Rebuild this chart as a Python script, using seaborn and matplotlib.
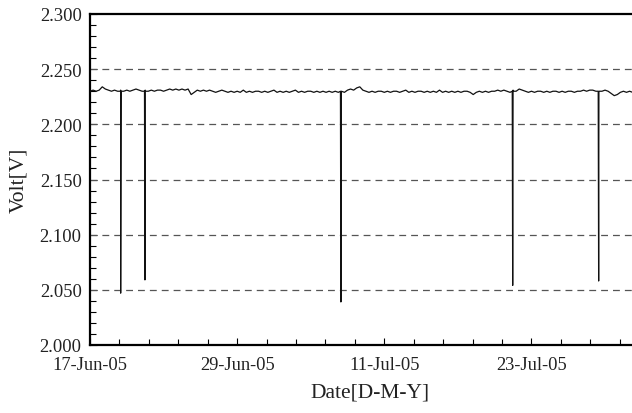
import matplotlib
matplotlib.use("Agg")
import matplotlib.pyplot as plt
import matplotlib.dates as mdates
from matplotlib.ticker import AutoMinorLocator, FixedLocator, FormatStrFormatter
import seaborn as sns
import pandas as pd

# ---- data ----
start_date = "2005-06-17"
base_step_hours = 6
base_volts = [
    2.230, 2.231, 2.230, 2.231,  2.234, 2.232, 2.231, 2.230,
    2.231, 2.230, 2.231, 2.230,  2.231, 2.230, 2.231, 2.232,
    2.231, 2.230, 2.231, 2.230,  2.231, 2.230, 2.231, 2.231,
    2.230, 2.231, 2.232, 2.231,  2.232, 2.231, 2.232, 2.231,
    2.232, 2.227, 2.229, 2.231,  2.230, 2.231, 2.230, 2.231,
    2.230, 2.229, 2.230, 2.231,  2.230, 2.229, 2.230, 2.229,
    2.230, 2.229, 2.231, 2.229,  2.230, 2.229, 2.230, 2.230,
    2.229, 2.230, 2.229, 2.230,  2.231, 2.229, 2.230, 2.229,
    2.230, 2.229, 2.230, 2.231,  2.229, 2.230, 2.229, 2.230,
    2.230, 2.229, 2.230, 2.229,  2.230, 2.229, 2.230, 2.229,
    2.230, 2.229, 2.230, 2.229,  2.231, 2.232, 2.231, 2.233,
    2.234, 2.231, 2.230, 2.229,  2.230, 2.229, 2.230, 2.230,
    2.229, 2.230, 2.229, 2.230,  2.230, 2.229, 2.230, 2.231,
    2.229, 2.230, 2.229, 2.230,  2.230, 2.229, 2.230, 2.229,
    2.230, 2.229, 2.231, 2.229,  2.230, 2.229, 2.230, 2.229,
    2.230, 2.229, 2.230, 2.230,  2.229, 2.227, 2.229, 2.230,
    2.229, 2.230, 2.229, 2.230,  2.230, 2.231, 2.230, 2.231,
    2.230, 2.229, 2.231, 2.230,  2.232, 2.231, 2.230, 2.229,
    2.230, 2.229, 2.230, 2.230,  2.229, 2.230, 2.229, 2.230,
    2.230, 2.229, 2.230, 2.229,  2.230, 2.230, 2.229, 2.230,
    2.230, 2.231, 2.230, 2.231,  2.231, 2.230, 2.229, 2.230,
    2.231, 2.230, 2.228, 2.226,  2.227, 2.229, 2.230, 2.229,
    2.230, 2.229, 2.230, 2.229,  2.230, 2.229, 2.230, 2.229,
]
spike_times = ["2005-06-19 12:00", "2005-06-21 11:30", "2005-07-07 11:00",
               "2005-07-21 11:15", "2005-07-28 11:30"]
spike_volts = [2.047, 2.059, 2.039, 2.054, 2.058]
spike_edge_volts = [2.230, 2.230, 2.230, 2.230, 2.230]
tick_dates = ["2005-06-17", "2005-06-29", "2005-07-11", "2005-07-23"]
y_ticks = [2.000, 2.050, 2.100, 2.150, 2.200, 2.250, 2.300]
grid_values = [2.050, 2.100, 2.150, 2.200, 2.250]
x_end = "2005-08-01 16:00"

# ---- build table ----
base_times = pd.date_range(start_date, periods=len(base_volts), freq=f"{base_step_hours}h")
rows = [(t, v) for t, v in zip(base_times, base_volts)]
for st, sv, ev in zip(spike_times, spike_volts, spike_edge_volts):
    t = pd.Timestamp(st)
    rows.append((t - pd.Timedelta(minutes=50), ev))
    rows.append((t, sv))
    rows.append((t + pd.Timedelta(minutes=50), ev))
df = pd.DataFrame(rows, columns=["date", "volt"]).sort_values("date").reset_index(drop=True)

# ---- plot ----
sns.set_theme(style="ticks")
plt.rcParams["font.family"] = ["Liberation Serif", "DejaVu Serif"]

fig = plt.figure(figsize=(6.32, 4.14), dpi=100)
W, H = 632, 414
left, right, top, bottom = 90, 650, 15, 346
ax = fig.add_axes([left / W, 1 - bottom / H, (right - left) / W, (bottom - top) / H])

for g in grid_values:
    ax.axhline(g, color="#555555", lw=0.9, ls=(0, (5.5, 4)), zorder=1)

sns.lineplot(data=df, x="date", y="volt", ax=ax, color="#111111", lw=0.9,
             estimator=None, sort=False, zorder=3)

ax.set_ylim(2.0, 2.3)
ax.set_xlim(pd.Timestamp(start_date), pd.Timestamp(x_end))
ax.yaxis.set_major_locator(FixedLocator(y_ticks))
ax.yaxis.set_major_formatter(FormatStrFormatter("%.3f"))
ax.yaxis.set_minor_locator(AutoMinorLocator(5))
ax.xaxis.set_major_locator(FixedLocator([mdates.date2num(pd.Timestamp(d)) for d in tick_dates]))
ax.xaxis.set_major_formatter(mdates.DateFormatter("%d-%b-%y"))
ax.xaxis.set_minor_locator(AutoMinorLocator(5))

ax.tick_params(axis="both", which="both", direction="in", colors="black",
               labelsize=13.3, width=0.8)
ax.tick_params(axis="both", which="major", length=5)
ax.tick_params(axis="both", which="minor", length=4)
ax.tick_params(axis="y", pad=6)
ax.tick_params(axis="x", pad=8)
for lab in ax.get_xticklabels() + ax.get_yticklabels():
    lab.set_color("#222222")

for s in ["left", "bottom", "top"]:
    ax.spines[s].set_color("black")
    ax.spines[s].set_linewidth(1.6)
ax.spines["right"].set_visible(False)

ax.set_xlabel("Date[D-M-Y]", fontsize=15.5, color="#222222", labelpad=7)
ax.set_ylabel("Volt[V]", fontsize=15.5, color="#222222", labelpad=8)

fig.savefig("out.png", dpi=100)
